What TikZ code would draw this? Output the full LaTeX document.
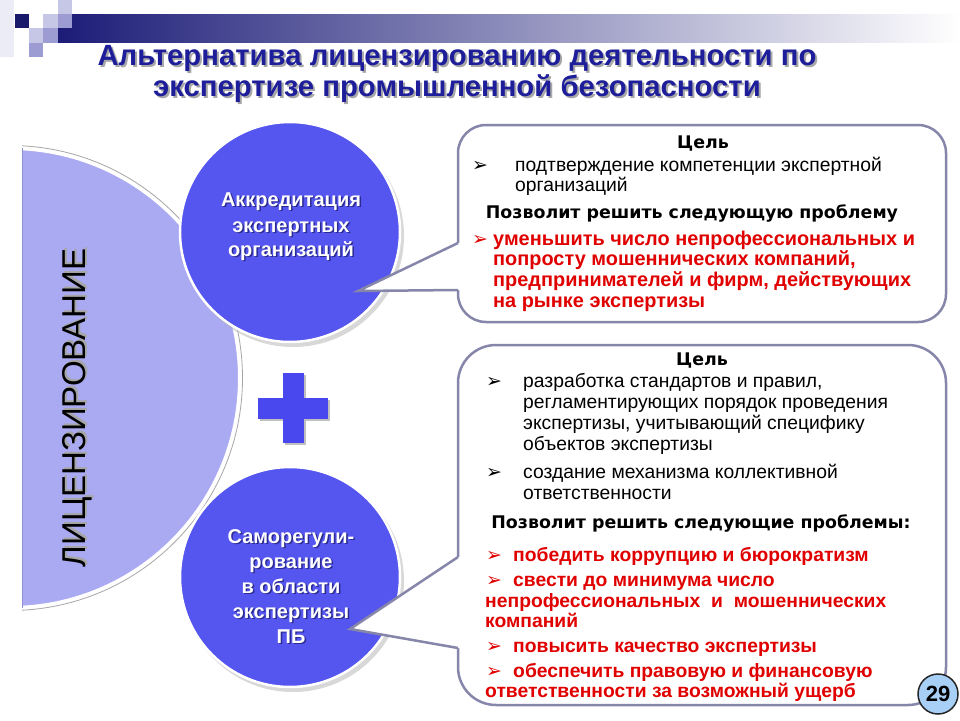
\documentclass[tikz,border=0pt]{standalone}
\usepackage{fontspec}
\setmainfont{Liberation Sans}
\newfontfamily\dejavu{DejaVu Sans}
\usetikzlibrary{calc}
\definecolor{navy}{HTML}{1C1C78}
\definecolor{titleblue}{HTML}{1E1E9A}
\definecolor{disc}{HTML}{AAAAF3}
\definecolor{ball}{HTML}{5555EF}
\definecolor{plusc}{HTML}{4848EE}
\definecolor{frame}{HTML}{8686AA}
\definecolor{redtxt}{HTML}{E00000}
\definecolor{sqA}{HTML}{ECECF7}
\definecolor{sqB}{HTML}{C6C6E6}
\definecolor{sqC}{HTML}{9C9CD2}
\definecolor{pgblue}{HTML}{A8D0F6}
\definecolor{shadowgray}{HTML}{A8A8A8}
\definecolor{shadowblue}{HTML}{2A2A90}
% text with a drop shadow inside one node
\newcommand{\shtext}[3]{\leavevmode\rlap{\kern#3\raisebox{-#3}{\textcolor{#1}{#2}}}#2}
\tikzset{
  titlestyle/.style={font=\bfseries\fontsize{29.3}{27}\selectfont, text=titleblue, anchor=base, inner sep=0, align=center},
  bul/.style={font=\dejavu\fontsize{19}{19}\selectfont, anchor=base west, inner sep=0},
  txt/.style={font=\fontsize{19.3}{21}\selectfont, anchor=base west, inner sep=0},
  rtxt/.style={font=\bfseries\fontsize{19.3}{21}\selectfont, text=redtxt, anchor=base west, inner sep=0},
  rtxtA/.style={rtxt, font=\bfseries\fontsize{19.9}{21}\selectfont},
  head/.style={font=\dejavu\bfseries\fontsize{17.4}{20}\selectfont, anchor=base, inner sep=0},
  ctxt/.style={font=\bfseries\fontsize{20}{24}\selectfont, text=white, anchor=base, inner sep=0},
  ball/.style={circle, fill=ball, draw=white, line width=2.5, minimum size=220, inner sep=0},
  callbox/.style={rectangle, draw=frame, line width=2.5, fill=white, inner sep=0},
  pointer/.style={draw=frame, line width=2.5, line join=miter},
}
\begin{document}
\begin{tikzpicture}[x=1pt,y=-1pt]
\useasboundingbox (0,0) rectangle (960,720);
\fill[white] (0,0) rectangle (960,720);

% header decoration
\fill[sqA] (0,0) rectangle (14,57);
\shade[left color=navy, right color=white] (58,14) rectangle (960,42);
\fill[navy!90!black] (15,14) rectangle (29,28);
\fill[sqB] (58,0) rectangle (72,14);
\fill[sqB] (43,14) rectangle (58,28);
\fill[sqC] (58,14) rectangle (72,28);
\fill[sqB] (29,28) rectangle (43,43);
\fill[sqC] (43,28) rectangle (58,43);
\fill[sqC] (29,43) rectangle (43,57);

% title (base anchor = baseline of the last line)
\node[titlestyle] (title) at (457,96) {\shtext{shadowgray}{Альтернатива лицензированию деятельности по}{2pt}\\\shtext{shadowgray}{экспертизе промышленной безопасности}{2pt}};

% half disc
\begin{scope}
  \clip (22,100) rectangle (420,660);
  \fill[disc] (10,378) circle (230);
  \draw[white, line width=4] (10,378) circle (230);
  \draw[black!35, line width=0.8] (10,378) circle (232.5);
\end{scope}
\draw[disc!85!black, line width=0.8] (22.4,148) -- (22.4,608);
\node[rotate=90, font=\fontsize{33}{33}\selectfont, inner sep=0] (lic) at (78,408) {\shtext{black!35}{ЛИЦЕНЗИРОВАНИЕ}{2pt}};

% circles
\fill[black!30, opacity=0.5] (293,236) circle (111);
\node[ball] (acc) at (290,232) {};
\fill[black!30, opacity=0.5] (293,581) circle (111);
\node[ball] (sro) at (290,577) {};

\node[ctxt] (a1) at (291,206) {\shtext{shadowblue}{Аккредитация}{1.5pt}};
\node[ctxt] (a2) at (291,232) {\shtext{shadowblue}{экспертных}{1.5pt}};
\node[ctxt] (a3) at (291,256) {\shtext{shadowblue}{организаций}{1.5pt}};

\node[ctxt] (s1) at (291,543) {\shtext{shadowblue}{Саморегули-}{1.5pt}};
\node[ctxt] (s2) at (291,568) {\shtext{shadowblue}{рование}{1.5pt}};
\node[ctxt] (s3) at (291,593) {\shtext{shadowblue}{в области}{1.5pt}};
\node[ctxt] (s4) at (291,618) {\shtext{shadowblue}{экспертизы}{1.5pt}};
\node[ctxt] (s5) at (291,643) {\shtext{shadowblue}{ПБ}{1.5pt}};

% plus
\fill[black!25] (284.5,375) rectangle (305.5,445);
\fill[black!25] (260,399.5) rectangle (330,420.5);
\fill[plusc] (282.5,373) rectangle (303.5,443);
\fill[plusc] (258,397.5) rectangle (328,418.5);

% callout 1
\node[callbox, rounded corners=28, minimum width=488, minimum height=197] (box1) at (702,223.5) {};
\coordinate (tip1) at (358,291);
\coordinate (p1a) at (458,243);
\coordinate (p1b) at (458,290);
\fill[white] (p1a) -- (tip1) -- (p1b) -- ++(4,0) -- ($(p1a)+(4,0)$) -- cycle;
\draw[pointer] (p1a) -- (tip1) -- (p1b);

% callout 2
\node[callbox, rounded corners=38, minimum width=488, minimum height=360] (box2) at (702,525) {};
\coordinate (tip2) at (350,629);
\coordinate (p2a) at (458,557);
\coordinate (p2b) at (458,648);
\fill[white] (p2a) -- (tip2) -- (p2b) -- ++(4,0) -- ($(p2a)+(4,0)$) -- cycle;
\draw[pointer] (p2a) -- (tip2) -- (p2b);

% box 1 text
\node[head] (b1h) at (703,148) {Цель};
\node[bul] at (472,171) {➢};
\node[txt] (b1t1) at (515,171) {подтверждение компетенции экспертной};
\node[txt] (b1t2) at (515,191) {организаций};
\node[head] (b1h2) at (692,218) {Позволит решить следующую проблему};
\node[bul, text=redtxt] at (472,245) {➢};
\node[rtxtA] (b1r1) at (493,245) {уменьшить число непрофессиональных и};
\node[rtxtA] (b1r2) at (493,265) {попросту мошеннических компаний,};
\node[rtxtA] (b1r3) at (493,286) {предпринимателей и фирм, действующих};
\node[rtxtA] (b1r4) at (493,307) {на рынке экспертизы};

% box 2 text
\node[head] (b2h) at (702,365) {Цель};
\node[bul] at (486,387) {➢};
\node[txt] (b2t1) at (523,387) {разработка стандартов и правил,};
\node[txt] (b2t2) at (523,408) {регламентирующих порядок проведения};
\node[txt] (b2t3) at (523,429) {экспертизы, учитывающий специфику};
\node[txt] (b2t4) at (523,450) {объектов экспертизы};
\node[bul] at (486,478) {➢};
\node[txt] (b2t5) at (523,478) {создание механизма коллективной};
\node[txt] (b2t6) at (523,499) {ответственности};
\node[head] (b2h2) at (701,528) {Позволит решить следующие проблемы:};
\node[bul, text=redtxt] at (486,561) {➢};
\node[rtxt] (b2r1) at (513,561) {победить коррупцию и бюрократизм};
\node[bul, text=redtxt] at (486,586) {➢};
\node[rtxt] (b2r2) at (513,586) {свести до минимума число};
\node[rtxt] (b2r3) at (485,607) {непрофессиональных \ и \ мошеннических};
\node[rtxt] (b2r4) at (485,627) {компаний};
\node[bul, text=redtxt] at (486,652) {➢};
\node[rtxt] (b2r5) at (513,652) {повысить качество экспертизы};
\node[bul, text=redtxt] at (486,677) {➢};
\node[rtxt] (b2r6) at (513,677) {обеспечить правовую и финансовую};
\node[rtxt] (b2r7) at (485,697) {ответственности за возможный ущерб};

% page number
\node[circle, fill=pgblue, draw=black!85, line width=1.5, minimum size=40, inner sep=0, font=\bfseries\fontsize{22}{22}\selectfont] (pg) at (938,694) {29};
\end{tikzpicture}
\end{document}
